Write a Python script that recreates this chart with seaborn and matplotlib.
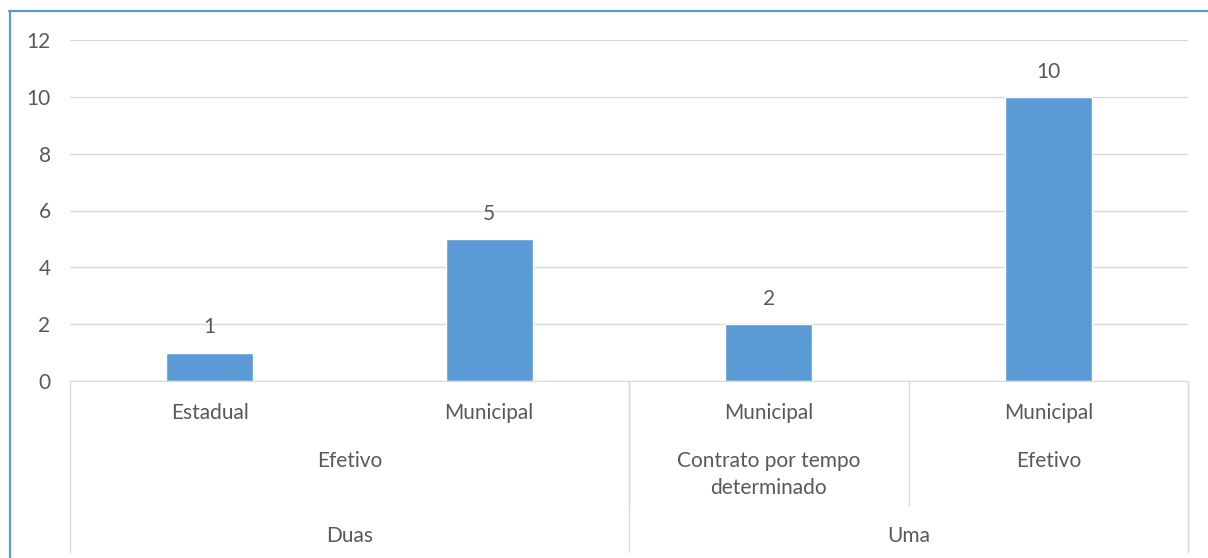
import matplotlib
matplotlib.use('Agg')
import matplotlib.pyplot as plt
import matplotlib.transforms as mtransforms
from matplotlib.lines import Line2D
import seaborn as sns
import pandas as pd
from itertools import groupby

# Dados (eixo de categorias em tres niveis)
nivel1 = ['Estadual', 'Municipal', 'Municipal', 'Municipal']
nivel2 = ['Efetivo', 'Efetivo', 'Contrato por tempo\ndeterminado', 'Efetivo']
nivel3 = ['Duas', 'Duas', 'Uma', 'Uma']
valores = [1, 5, 2, 10]

COR_BARRA = '#5B9BD5'
COR_TEXTO = '#595959'
COR_GRADE = '#D9D9D9'
FS = 15

W, H = 1208, 558
sns.set_style('white')
plt.rcParams['font.family'] = ['Lato', 'DejaVu Sans']

df = pd.DataFrame({'cat': [f'{c}|{b}|{a}' for a, b, c in zip(nivel1, nivel2, nivel3)],
                   'valor': valores})

fig = plt.figure(figsize=(W / 100, H / 100), dpi=100)
# area do grafico em pixels: x 70..1188, y 40..381
ax = fig.add_axes([70 / W, (H - 381) / H, 1118 / W, 341 / H])

sns.barplot(data=df, x='cat', y='valor', color=COR_BARRA, width=0.31,
            saturation=1, ax=ax, order=list(df['cat']))
ax.bar_label(ax.containers[0], padding=11, fontsize=FS, color=COR_TEXTO)

ax.set_ylim(0, 12)
ax.set_yticks(range(0, 13, 2))
ax.set_xlim(-0.5, len(valores) - 0.5)
ax.yaxis.grid(True, color=COR_GRADE, lw=1)
ax.set_axisbelow(True)
ax.set_xlabel('')
ax.set_ylabel('')
ax.set_xticks([])
ax.tick_params(axis='y', length=0, pad=14, labelsize=FS, labelcolor=COR_TEXTO)
for s in ['left', 'right', 'top']:
    ax.spines[s].set_visible(False)
ax.spines['bottom'].set_color(COR_GRADE)

trans = mtransforms.blended_transform_factory(ax.transData, ax.transAxes)

def py(p):
    # pixel y (a partir do topo) -> coordenada de eixo
    return (381 - p) / 341

def linha(x, yfim):
    ax.add_line(Line2D([x, x], [0, py(yfim)], transform=trans, color=COR_GRADE,
                       lw=1, clip_on=False))

# nivel 1
for i, t in enumerate(nivel1):
    ax.text(i, py(413), t, transform=trans, ha='center', va='center',
            fontsize=FS, color=COR_TEXTO)

# nivel 2 (agrupado dentro do nivel 3)
pos = 0
chaves2 = list(zip(nivel3, nivel2))
for k, g in groupby(chaves2):
    n = len(list(g))
    ax.text(pos + (n - 1) / 2, py(451), k[1], transform=trans, ha='center', va='top',
            fontsize=FS, color=COR_TEXTO, linespacing=1.45)
    if pos > 0:
        linha(pos - 0.5, 505)
    pos += n

# nivel 3
pos = 0
for k, g in groupby(nivel3):
    n = len(list(g))
    ax.text(pos + (n - 1) / 2, py(536), k, transform=trans, ha='center', va='center',
            fontsize=FS, color=COR_TEXTO)
    linha(pos - 0.5, 552)
    pos += n
linha(pos - 0.5, 552)

# moldura azul (cortada a direita e em baixo)
fig.add_artist(Line2D([9.5 / W, 9.5 / W], [0, 1 - 11 / H], color=COR_BARRA, lw=1.6))
fig.add_artist(Line2D([9 / W, 1], [1 - 11 / H, 1 - 11 / H], color=COR_BARRA, lw=1.6))

fig.savefig('out.png', dpi=100)
